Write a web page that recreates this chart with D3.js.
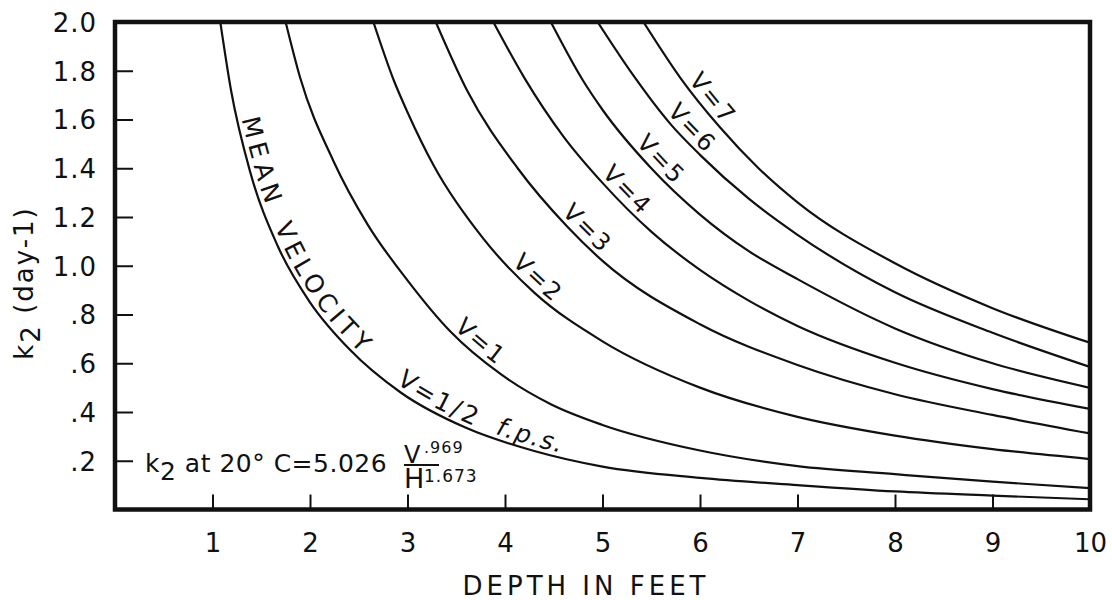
<!DOCTYPE html>
<html>
<head>
<meta charset="utf-8">
<script src="https://cdn.jsdelivr.net/npm/d3@7"></script>
<style>
  html, body { margin: 0; padding: 0; background: #fff; }
  svg { display: block; font-family: "DejaVu Sans", sans-serif; }
</style>
</head>
<body>
<svg id="chart" width="1112" height="600"></svg>
<script>
// Axis ticks
const depthTicks = [1, 2, 3, 4, 5, 6, 7, 8, 9, 10];
const depthTickLabels = ["1", "2", "3", "4", "5", "6", "7", "8", "9", "10"];
const k2Ticks = [0.2, 0.4, 0.6, 0.8, 1.0, 1.2, 1.4, 1.6, 1.8, 2.0];
const k2TickLabels = [".2", ".4", ".6", ".8", "1.0", "1.2", "1.4", "1.6", "1.8", "2.0"];

// Reaeration coefficient k2 (day^-1) against depth H (ft), one curve per mean velocity V (ft/s)
const velocities = ["1/2", "1", "2", "3", "4", "5", "6", "7"];
const curveV05 = [[1.08, 2.0], [1.19, 1.72], [1.39, 1.38], [1.67, 1.08], [2.0, 0.85], [2.41, 0.655], [2.93, 0.48],
                  [3.6, 0.335], [4.3, 0.24], [5, 0.176], [6, 0.13], [7, 0.1], [8, 0.074], [9, 0.057], [10, 0.042]];
const curveV1 = [[1.75, 2.0], [1.9, 1.77], [2.24, 1.43], [2.59, 1.17], [3.0, 0.94], [3.44, 0.73], [3.95, 0.557],
                 [4.47, 0.432], [5, 0.347], [6, 0.242], [7, 0.178], [8, 0.145], [9, 0.114], [10, 0.088]];
const curveV2 = [[2.65, 2.0], [2.86, 1.76], [3.0, 1.63], [3.27, 1.41], [3.78, 1.11], [4.3, 0.89], [5, 0.69],
                 [6, 0.5], [7, 0.38], [8, 0.303], [9, 0.248], [10, 0.207]];
const curveV3 = [[3.29, 2.0], [3.61, 1.72], [4.13, 1.4], [4.64, 1.16], [5, 1.02], [6, 0.76], [7, 0.593],
                 [8, 0.473], [9, 0.388], [10, 0.312]];
const curveV4 = [[3.88, 2.0], [4.2, 1.77], [4.6, 1.53], [5, 1.34], [5.5, 1.14], [6, 0.983], [6.5, 0.857],
                 [7, 0.753], [8, 0.602], [9, 0.494], [10, 0.413]];
const curveV5 = [[4.47, 2.0], [4.8, 1.76], [5, 1.64], [5.5, 1.4], [6, 1.21], [6.5, 1.06], [7, 0.945],
                 [8, 0.743], [9, 0.6], [10, 0.499]];
const curveV6 = [[4.95, 2.0], [5.3, 1.79], [5.7, 1.58], [6, 1.455], [6.5, 1.275], [7, 1.127], [8, 0.891],
                 [9, 0.725], [10, 0.585]];
const curveV7 = [[5.42, 2.0], [5.8, 1.77], [6.2, 1.57], [6.6, 1.4], [7, 1.26], [8, 1.01], [9, 0.826], [10, 0.684]];
const curves = [curveV05, curveV1, curveV2, curveV3, curveV4, curveV5, curveV6, curveV7];

// Curve labels: text, the curve it rides on, depth where it starts, letter spacing
const labelTexts = ["MEAN", "VELOCITY", "V=1/2", "f.p.s.", "V=1", "V=2", "V=3", "V=4", "V=5", "V=6", "V=7"];
const labelCurve = [0, 0, 0, 0, 1, 2, 3, 4, 5, 6, 7];
const labelStartDepth = [1.25, 1.59, 2.85, 3.88, 3.44, 4.03, 4.54, 4.95, 5.3, 5.62, 5.84];
const labelSpacing = [5.5, 5, 3, 1.5, 2.5, 2.5, 2.5, 2.5, 2.5, 2.5, 2.5];

const svg = d3.select("#chart");
const plotLeft = 115, plotRight = 1090, plotTop = 22, plotBottom = 509.5;

const x = d3.scaleLinear().domain([0, 10]).range([plotLeft, plotRight]);
const y = d3.scaleLinear().domain([0, 2]).range([plotBottom, plotTop]);

svg.append("defs").append("clipPath").attr("id", "plotClip")
  .append("rect").attr("x", plotLeft).attr("y", plotTop)
  .attr("width", plotRight - plotLeft).attr("height", plotBottom - plotTop);

// Curves: monotone cubic through the read points
const line = d3.line().x(d => x(d[0])).y(d => y(d[1])).curve(d3.curveMonotoneX);
const curveGroup = svg.append("g").attr("clip-path", "url(#plotClip)");
curves.forEach((c, i) => {
  curveGroup.append("path")
    .attr("id", "curve" + i)
    .attr("d", line(c))
    .attr("fill", "none")
    .attr("stroke", "#111")
    .attr("stroke-width", 2.2);
});

// Y axis: ticks point into the plot
const yAxis = d3.axisLeft(y).tickValues(k2Ticks).tickSize(-18).tickPadding(18)
  .tickFormat((d, i) => k2TickLabels[i]);
const gy = svg.append("g").attr("transform", `translate(${plotLeft},0)`).call(yAxis);
gy.select(".domain").remove();
gy.selectAll(".tick line").attr("stroke", "#111").attr("stroke-width", 2);
gy.selectAll(".tick text").attr("fill", "#111").attr("font-size", 26).attr("font-family", "DejaVu Sans")
  .attr("letter-spacing", 1).attr("dy", "0.36em");

// X axis
const xAxis = d3.axisBottom(x).tickValues(depthTicks).tickSize(-15).tickPadding(24)
  .tickFormat((d, i) => depthTickLabels[i]);
const gx = svg.append("g").attr("transform", `translate(0,${plotBottom})`).call(xAxis);
gx.select(".domain").remove();
gx.selectAll(".tick line").attr("stroke", "#111").attr("stroke-width", 2);
gx.selectAll(".tick text").attr("fill", "#111").attr("font-size", 26).attr("font-family", "DejaVu Sans");

// Frame
svg.append("rect").attr("x", plotLeft).attr("y", plotTop)
  .attr("width", plotRight - plotLeft).attr("height", plotBottom - plotTop)
  .attr("fill", "none").attr("stroke", "#111").attr("stroke-width", 4.5);

// Axis titles
svg.append("text").attr("x", 586).attr("y", 595).attr("text-anchor", "middle")
  .attr("font-size", 26).attr("letter-spacing", 4).attr("fill", "#111")
  .text("DEPTH IN FEET");

const yTitle = svg.append("text").attr("transform", "translate(33,283) rotate(-90)")
  .attr("text-anchor", "middle").attr("font-size", 26).attr("letter-spacing", 2).attr("fill", "#111");
yTitle.append("tspan").text("k");
yTitle.append("tspan").attr("dy", 7).text("2");
yTitle.append("tspan").attr("dy", -7).text(" (day-1)");

// Formula note
const note = svg.append("text").attr("x", 145).attr("y", 472).attr("font-size", 25)
  .attr("letter-spacing", 0.5).attr("fill", "#111");
note.append("tspan").text("k");
note.append("tspan").attr("dy", 8).text("2");
note.append("tspan").attr("dy", -8).text(" at  20° C=5.026");
svg.append("text").attr("x", 404).attr("y", 463).attr("font-size", 24).attr("fill", "#111").text("V");
svg.append("text").attr("x", 424).attr("y", 453).attr("font-size", 16).attr("letter-spacing", 1).attr("fill", "#111").text(".969");
svg.append("line").attr("x1", 404).attr("x2", 439).attr("y1", 465).attr("y2", 465).attr("stroke", "#111").attr("stroke-width", 2);
svg.append("text").attr("x", 404).attr("y", 488).attr("font-size", 27).attr("fill", "#111").text("H");
svg.append("text").attr("x", 424).attr("y", 482).attr("font-size", 17).attr("letter-spacing", 1).attr("fill", "#111").text("1.673");

// Curve labels set along each curve
function lengthAtDepth(pathNode, depth) {
  const target = x(depth);
  let lo = 0, hi = pathNode.getTotalLength();
  for (let k = 0; k < 40; k++) {
    const mid = (lo + hi) / 2;
    if (pathNode.getPointAtLength(mid).x < target) lo = mid; else hi = mid;
  }
  return lo;
}

labelTexts.forEach((txt, i) => {
  const ci = labelCurve[i];
  const node = document.getElementById("curve" + ci);
  const t = svg.append("text").attr("font-size", ci === 0 ? 25 : 24).attr("fill", "#111")
    .attr("letter-spacing", labelSpacing[i]);
  if (txt === "f.p.s.") t.attr("font-style", "italic");
  t.append("textPath").attr("href", "#curve" + ci)
    .attr("startOffset", lengthAtDepth(node, labelStartDepth[i]))
    .append("tspan").attr("dy", -5).text(txt);
});
</script>
</body>
</html>
